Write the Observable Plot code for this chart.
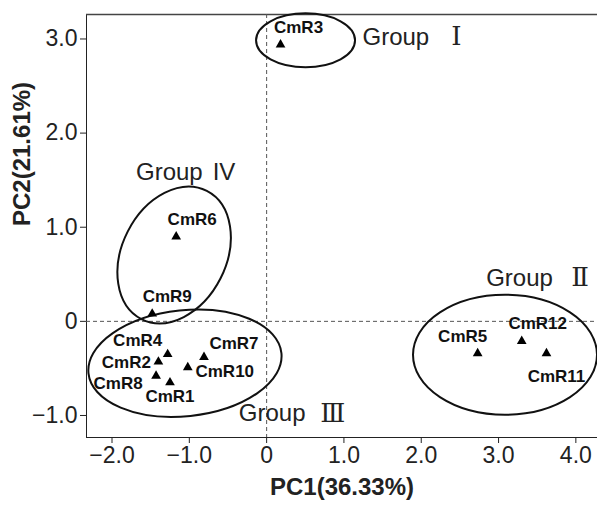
<!DOCTYPE html>
<html><head><meta charset="utf-8">
<script src="https://cdn.jsdelivr.net/npm/d3@7"></script>
<script src="https://cdn.jsdelivr.net/npm/@observablehq/plot@0.6"></script>
<style>html,body{margin:0;padding:0;background:#fff;overflow:hidden}</style>
</head><body><div id="chart"></div>
<script>
const names = ["CmR1","CmR2","CmR3","CmR4","CmR5","CmR6","CmR7","CmR8","CmR9","CmR10","CmR11","CmR12"];
const pc1 = [-1.25,-1.40,0.18,-1.28,2.73,-1.17,-0.81,-1.43,-1.48,-1.02,3.62,3.30];
const pc2 = [-0.65,-0.43,2.94,-0.35,-0.34,0.90,-0.38,-0.58,0.08,-0.49,-0.34,-0.21];
const xTicks = [-2,-1,0,1,2,3,4];
const yTicks = [-1,0,1,2,3];
const xDomain = [-2.33, 4.28];
const yDomain = [-1.234, 3.26];
const groupWords = ["Group","Group","Group","Group"];
const groupNumerals = ["Ⅰ","Ⅱ","Ⅲ","IV"];
const groupX = [1.24, 2.84, -0.36, -1.69];
const groupY = [3.02, 0.46, -0.98, 1.58];
const ellipseCX = [0.51, 3.09, -1.05, -1.19];
const ellipseCY = [2.98, -0.36, -0.45, 0.70];

// styling: ellipse radii (px) & rotation, label offsets (px)
const ellipseStyle = [
  {a: 49.5, b: 27, rot: 0},
  {a: 92, b: 60, rot: 0},
  {a: 97, b: 53, rot: -6},
  {a: 72, b: 52, rot: -63}
];
const labelOffset = {
  CmR1:[0,14], CmR2:[-32,1], CmR3:[18,-17], CmR4:[-30,-14], CmR5:[-15,-17],
  CmR6:[16,-17], CmR7:[30,-14], CmR8:[-38,8], CmR9:[15,-17], CmR10:[37,4],
  CmR11:[10,23], CmR12:[16,-18]
};

const points = names.map((n,i)=>({name:n, x:pc1[i], y:pc2[i]}));
const groups = groupWords.map((g,i)=>({g, num: groupNumerals[i], x:groupX[i], y:groupY[i]}));
const font = "'Liberation Sans', Arial, 'Noto Sans CJK SC', sans-serif";
const serif = "'DejaVu Serif', 'Liberation Serif', serif";
const fmt = d => d === 0 ? "0" : d3.format(".1f")(d);

function ellipseMark(index, scales) {
  const ns = "http://www.w3.org/2000/svg";
  const g = document.createElementNS(ns, "g");
  ellipseCX.forEach((cx, i) => {
    const s = ellipseStyle[i];
    const e = document.createElementNS(ns, "ellipse");
    e.setAttribute("cx", 0); e.setAttribute("cy", 0);
    e.setAttribute("rx", s.a); e.setAttribute("ry", s.b);
    e.setAttribute("transform", `translate(${scales.x(cx)},${scales.y(ellipseCY[i])}) rotate(${s.rot})`);
    e.setAttribute("fill", "none");
    e.setAttribute("stroke", "#111");
    e.setAttribute("stroke-width", 2);
    g.appendChild(e);
  });
  return g;
}

const chart = Plot.plot({
  width: 597, height: 506,
  marginLeft: 86, marginRight: 0, marginTop: 14, marginBottom: 69,
  style: {fontFamily: font, fontSize: "23px", color: "#222", background: "#fff"},
  x: {domain: xDomain, ticks: xTicks, tickFormat: fmt, label: null, line: true, tickSize: 6, tickPadding: 3},
  y: {domain: yDomain, ticks: yTicks, tickFormat: fmt, label: null, line: true, tickSize: 6, tickPadding: 3},
  marks: [
    Plot.ruleY([yDomain[1]], {stroke: "#444", strokeWidth: 1.5}),
    Plot.ruleX([0], {stroke: "#555", strokeDasharray: "4,3", strokeWidth: 1}),
    Plot.ruleY([0], {stroke: "#555", strokeDasharray: "4,3", strokeWidth: 1}),
    ellipseMark,
    Plot.dot(points, {x: "x", y: "y", symbol: "triangle", r: 3.6, fill: "#000", stroke: null}),
    ...points.map(p => Plot.text([p], {x: "x", y: "y", text: "name", dx: labelOffset[p.name][0], dy: labelOffset[p.name][1],
      fontSize: 17, fontWeight: "bold", fill: "#111"})),
    Plot.text(groups, {x: "x", y: "y", text: "g", textAnchor: "start", fontSize: 24, fill: "#222"}),
    Plot.text(groups.slice(0,3), {x: "x", y: "y", text: "num", textAnchor: "middle", dx: 94, fontSize: 26, fontWeight: 300, fill: "#222", fontFamily: serif}),
    Plot.text(groups.slice(3), {x: "x", y: "y", text: "num", textAnchor: "middle", dx: 88, fontSize: 24, fill: "#222"}),
    Plot.text(["PC1(36.33%)"], {frameAnchor: "bottom", text: d => d, dy: 57, fontSize: 24, fontWeight: "bold", fill: "#222"}),
    Plot.text(["PC2(21.61%)"], {frameAnchor: "left", text: d => d, dx: -64, rotate: -90, fontSize: 24, fontWeight: "bold", fill: "#222"})
  ]
});
document.getElementById("chart").appendChild(chart);
</script>
</body></html>
